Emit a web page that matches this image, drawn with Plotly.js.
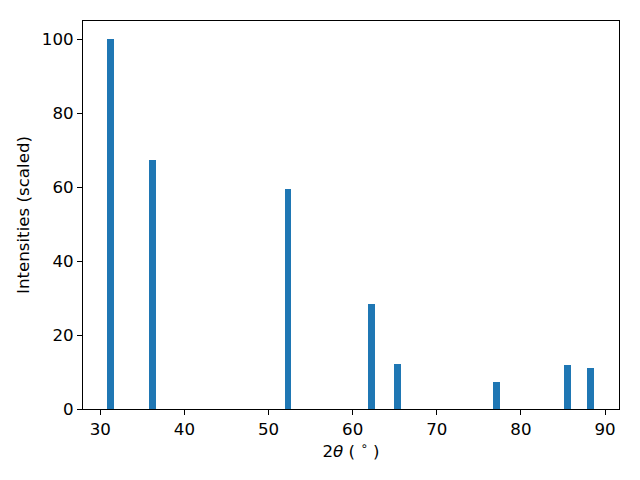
<!DOCTYPE html>
<html>
<head>
<meta charset="utf-8">
<script src="https://cdn.plot.ly/plotly-3.0.1.min.js"></script>
<style>html,body{margin:0;padding:0;background:#fff;}</style>
</head>
<body>
<div id="chart" style="width:640px;height:480px;"></div>
<script>
const twoTheta = [31.2, 36.2, 52.3, 62.2, 65.3, 77.1, 85.5, 88.3];
const intensities = [100, 67.5, 59.6, 28.4, 12.1, 7.4, 11.8, 11.2];
const xTicks = [30, 40, 50, 60, 70, 80, 90];
const yTicks = [0, 20, 40, 60, 80, 100];

const FS = 16.67;
const trace = {
  type: 'bar',
  x: twoTheta,
  y: intensities,
  width: 0.8,
  marker: {color: '#1f77b4', line: {width: 0}},
  hoverinfo: 'x+y'
};

const axisCommon = {
  showgrid: false,
  zeroline: false,
  showline: true,
  linecolor: '#000',
  linewidth: 1,
  mirror: true,
  ticks: 'outside',
  ticklen: 5,
  tickwidth: 1,
  tickcolor: '#000',
  tickfont: {family: 'DejaVu Sans', size: FS, color: '#000'}
};

const layout = {
  width: 640,
  height: 480,
  margin: {l: 83, r: 21, t: 21, b: 71},
  paper_bgcolor: '#fff',
  plot_bgcolor: '#fff',
  showlegend: false,
  bargap: 0,
  font: {family: 'DejaVu Sans', size: FS, color: '#000'},
  xaxis: Object.assign({}, axisCommon, {
    range: [27.94, 91.66],
    tickvals: xTicks,
    ticktext: xTicks.map(String),
    title: {text: '2<i>θ</i> ( <sup>∘</sup> )', font: {family: 'DejaVu Sans', size: FS, color: '#000'}, standoff: 6}
  }),
  yaxis: Object.assign({}, axisCommon, {
    range: [0, 105],
    tickvals: yTicks,
    ticktext: yTicks.map(String),
    title: {text: 'Intensities (scaled)', font: {family: 'DejaVu Sans', size: FS, color: '#000'}, standoff: 8}
  })
};

Plotly.newPlot('chart', [trace], layout, {displayModeBar: false, staticPlot: true});
</script>
</body>
</html>
